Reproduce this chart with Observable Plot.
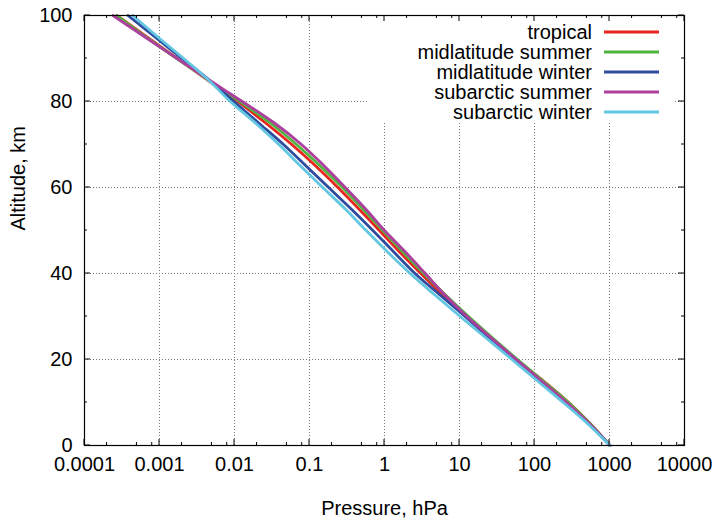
<!DOCTYPE html>
<html>
<head>
<meta charset="utf-8">
<script src="https://cdn.jsdelivr.net/npm/d3@7"></script>
<script src="https://cdn.jsdelivr.net/npm/@observablehq/plot@0.6"></script>
<style>
  html, body { margin: 0; padding: 0; background: #fff; }
  svg { display: block; }
</style>
</head>
<body>
<div id="chart"></div>
<script>
// ---- data ----
const altitudes = [0, 5, 10, 15, 20, 25, 30, 35, 40, 45, 50, 55, 60, 65, 70, 75, 80, 85, 90, 95, 100];
const tropical  = [1013, 559, 286, 132, 56.5, 25.7, 12.2, 6.0, 3.05, 1.59, 0.854, 0.456, 0.239, 0.121, 0.058, 0.026, 0.011, 0.0044, 0.00172, 0.00068, 0.00027];
const midlatitudeSummer = [1013, 554, 283, 130, 59.5, 27.7, 13.2, 6.52, 3.33, 1.76, 0.951, 0.515, 0.275, 0.139, 0.067, 0.030, 0.0118, 0.00448, 0.0017, 0.00066, 0.00027];
const midlatitudeWinter = [1018, 540, 258, 118, 54.7, 25.3, 11.9, 5.5, 2.55, 1.33, 0.70, 0.36, 0.18, 0.09, 0.045, 0.021, 0.0098, 0.0046, 0.0020, 0.00087, 0.00038];
const subarcticSummer   = [1010, 541, 268, 124, 57.3, 26.6, 12.6, 6.4, 3.5, 1.9, 1.0, 0.56, 0.30, 0.157, 0.078, 0.034, 0.0127, 0.0046, 0.00172, 0.00064, 0.00024];
const subarcticWinter   = [1013, 516, 242, 110, 50.1, 22.6, 10.2, 4.7, 2.2, 1.10, 0.57, 0.30, 0.150, 0.076, 0.039, 0.019, 0.0088, 0.0045, 0.0021, 0.00095, 0.00044];

const seriesNames = ["tropical", "midlatitude summer", "midlatitude winter", "subarctic summer", "subarctic winter"];
const seriesValues = [tropical, midlatitudeSummer, midlatitudeWinter, subarcticSummer, subarcticWinter];
const seriesColors = ["#e8251f", "#4fb43c", "#2f4b9e", "#ad3f9f", "#63c7e2"];

const xTickValues = [0.0001, 0.001, 0.01, 0.1, 1, 10, 100, 1000, 10000];
const xTickLabels = ["0.0001", "0.001", "0.01", "0.1", "1", "10", "100", "1000", "10000"];
const xMinorMultipliers = [2, 5, 8];
const yTickValues = [0, 20, 40, 60, 80, 100];
const yTickLabels = ["0", "20", "40", "60", "80", "100"];
const yMinorValues = [10, 30, 50, 70, 90];

// ---- table ----
const rows = seriesNames.flatMap((name, i) =>
  altitudes.map((a, j) => ({series: name, altitude: a, pressure: seriesValues[i][j]}))
);

const FONT = "'Liberation Sans', Arial, Helvetica, sans-serif";

// ticks drawn inward on all four sides (gnuplot style)
const ticksMark = (index, scales, values, dims) => {
  const x = scales.x, y = scales.y;
  const top = dims.marginTop, bottom = dims.height - dims.marginBottom;
  const left = dims.marginLeft, right = dims.width - dims.marginRight;
  const g = d3.create("svg:g").attr("stroke", "black").attr("stroke-width", 1).attr("fill", "none");
  const seg = (x1, y1, x2, y2) => g.append("line").attr("x1", x1).attr("y1", y1).attr("x2", x2).attr("y2", y2);
  for (const v of xTickValues) {
    const px = x(v);
    seg(px, bottom, px, bottom - 6);
    seg(px, top, px, top + 6);
  }
  for (const d of xTickValues.slice(0, -1)) {
    for (const m of xMinorMultipliers) {
      const px = x(d * m);
      seg(px, bottom, px, bottom - 3);
      seg(px, top, px, top + 3);
    }
  }
  for (const v of yTickValues) {
    const py = y(v);
    seg(left, py, left + 6, py);
    seg(right, py, right - 6, py);
  }
  for (const v of yMinorValues) {
    const py = y(v);
    seg(left, py, left + 3, py);
    seg(right, py, right - 3, py);
  }
  return g.node();
};

// legend in the upper right, with an opaque box that hides the grid
const legendMark = (index, scales, values, dims) => {
  const right = dims.width - dims.marginRight;
  const top = dims.marginTop;
  const g = d3.create("svg:g");
  g.append("rect")
    .attr("x", right - 315).attr("y", top + 1)
    .attr("width", 304).attr("height", 106)
    .attr("fill", "white");
  seriesNames.forEach((name, i) => {
    const yy = top + 17 + i * 20;
    g.append("text")
      .attr("x", right - 92).attr("y", yy).attr("dy", "0.35em")
      .attr("text-anchor", "end")
      .attr("font-family", FONT).attr("font-size", 20).attr("fill", "black")
      .text(name);
    g.append("line")
      .attr("x1", right - 80).attr("x2", right - 25)
      .attr("y1", yy).attr("y2", yy)
      .attr("stroke", seriesColors[i]).attr("stroke-width", 2.8);
  });
  return g.node();
};

const chart = Plot.plot({
  width: 718,
  height: 521,
  marginLeft: 84,
  marginRight: 34,
  marginTop: 15,
  marginBottom: 76,
  style: {fontFamily: FONT, fontSize: "20px", background: "white", color: "black"},
  x: {type: "log", domain: [0.0001, 10000], axis: null},
  y: {domain: [0, 100], axis: null},
  color: {domain: seriesNames, range: seriesColors},
  marks: [
    Plot.ruleX(xTickValues.slice(1, -1), {stroke: "#777", strokeWidth: 1, strokeDasharray: "1,2"}),
    Plot.ruleY(yTickValues.slice(1, -1), {stroke: "#777", strokeWidth: 1, strokeDasharray: "1,2"}),
    legendMark,
    Plot.line(rows, {x: "pressure", y: "altitude", z: "series", stroke: "series", strokeWidth: 2.8, curve: "monotone-y"}),
    Plot.frame({stroke: "black", strokeWidth: 1.2}),
    ticksMark,
    Plot.text(xTickValues, {x: d => d, text: (d, i) => xTickLabels[i], frameAnchor: "bottom", dy: 25, fill: "black", fontSize: 20}),
    Plot.text(yTickValues, {y: d => d, text: (d, i) => yTickLabels[i], frameAnchor: "left", textAnchor: "end", dx: -12, fill: "black", fontSize: 20}),
    Plot.text(["Pressure, hPa"], {frameAnchor: "bottom", dy: 69, fill: "black", fontSize: 20}),
    Plot.text(["Altitude, km"], {frameAnchor: "left", dx: -66, rotate: -90, fill: "black", fontSize: 20})
  ]
});

document.getElementById("chart").appendChild(chart);
</script>
</body>
</html>
